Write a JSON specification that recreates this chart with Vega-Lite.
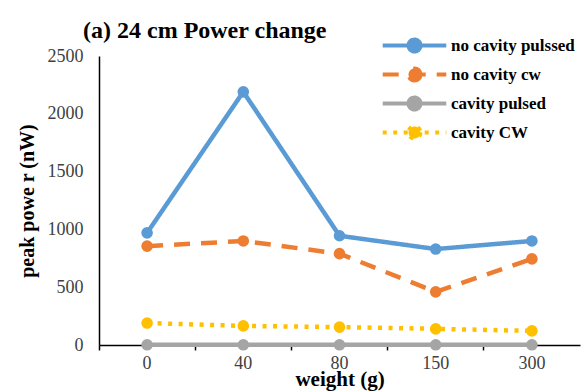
{
  "$schema": "https://vega.github.io/schema/vega-lite/v6.json",
  "width": 481,
  "height": 289,
  "autosize": {"type": "none"},
  "padding": {"left": 99, "top": 56, "right": 8, "bottom": 47},
  "background": "white",
  "title": {
    "text": "(a) 24 cm Power change",
    "anchor": "start",
    "frame": "group",
    "dx": -16,
    "offset": -6,
    "font": "'Liberation Serif', 'Times New Roman', 'DejaVu Serif', serif",
    "fontSize": 24,
    "fontWeight": "bold",
    "color": "#000000"
  },
  "config": {
    "view": {"stroke": null},
    "font": "'Liberation Serif', 'Times New Roman', 'DejaVu Serif', serif"
  },
  "data": {
    "values": [
      {"weight": 0, "series": "no cavity pulssed", "power": 970},
      {"weight": 40, "series": "no cavity pulssed", "power": 2190},
      {"weight": 80, "series": "no cavity pulssed", "power": 945},
      {"weight": 150, "series": "no cavity pulssed", "power": 830},
      {"weight": 300, "series": "no cavity pulssed", "power": 900},
      {"weight": 0, "series": "no cavity cw", "power": 855},
      {"weight": 40, "series": "no cavity cw", "power": 900},
      {"weight": 80, "series": "no cavity cw", "power": 790},
      {"weight": 150, "series": "no cavity cw", "power": 460},
      {"weight": 300, "series": "no cavity cw", "power": 745},
      {"weight": 0, "series": "cavity pulsed", "power": 2},
      {"weight": 40, "series": "cavity pulsed", "power": 2},
      {"weight": 80, "series": "cavity pulsed", "power": 2},
      {"weight": 150, "series": "cavity pulsed", "power": 2},
      {"weight": 300, "series": "cavity pulsed", "power": 2},
      {"weight": 0, "series": "cavity CW", "power": 190},
      {"weight": 40, "series": "cavity CW", "power": 165},
      {"weight": 80, "series": "cavity CW", "power": 155},
      {"weight": 150, "series": "cavity CW", "power": 140},
      {"weight": 300, "series": "cavity CW", "power": 122}
    ]
  },
  "mark": {
    "type": "line",
    "strokeWidth": 4.5,
    "point": {"filled": true, "size": 135, "opacity": 1}
  },
  "encoding": {
    "x": {
      "field": "weight",
      "type": "ordinal",
      "scale": {"type": "band", "paddingInner": 0, "paddingOuter": 0},
      "axis": {
        "title": "weight (g)",
        "titleFont": "'Liberation Serif', 'Times New Roman', 'DejaVu Serif', serif",
        "titleFontSize": 21,
        "titleFontWeight": "bold",
        "titleColor": "#000000",
        "titleY": 40,
        "titleBaseline": "alphabetic",
        "labelFont": "'Liberation Serif', 'Times New Roman', 'DejaVu Serif', serif",
        "labelFontSize": 18,
        "labelColor": "#404040",
        "labelAngle": 0,
        "labelPadding": 4,
        "bandPosition": 0,
        "domainColor": "#000000",
        "domainWidth": 1.5,
        "tickColor": "#000000",
        "tickSize": 5,
        "tickWidth": 1.5,
        "grid": false
      }
    },
    "y": {
      "field": "power",
      "type": "quantitative",
      "scale": {"domain": [0, 2500], "nice": false},
      "axis": {
        "title": "peak powe r (nW)",
        "values": [0, 500, 1000, 1500, 2000, 2500],
        "format": "d",
        "titleFont": "'Liberation Serif', 'Times New Roman', 'DejaVu Serif', serif",
        "titleFontSize": 20,
        "titleFontWeight": "bold",
        "titleColor": "#000000",
        "titlePadding": 10,
        "labelFont": "'Liberation Serif', 'Times New Roman', 'DejaVu Serif', serif",
        "labelFontSize": 18,
        "labelColor": "#404040",
        "labelPadding": 16,
        "ticks": false,
        "domainColor": "#000000",
        "domainWidth": 1.5,
        "grid": false
      }
    },
    "color": {
      "field": "series",
      "type": "nominal",
      "scale": {
        "domain": ["no cavity pulssed", "no cavity cw", "cavity pulsed", "cavity CW"],
        "range": ["#5B9BD5", "#ED7D31", "#A5A5A5", "#FFC000"]
      },
      "legend": {
        "title": null,
        "orient": "none",
        "legendX": 307,
        "legendY": -19,
        "symbolType": "M-5.3,0H5.3M1,0A1,1,0,1,1,-1,0A1,1,0,1,1,1,0",
        "symbolSize": 144,
        "symbolStrokeWidth": 4,
        "labelOffset": 28,
        "labelFont": "'Liberation Serif', 'Times New Roman', 'DejaVu Serif', serif",
        "labelFontSize": 17,
        "labelFontWeight": "bold",
        "labelColor": "#000000",
        "rowPadding": 0,
        "labelLimit": 300,
        "encode": {
          "symbols": {"update": {"fill": {"scale": "color", "field": "value"}}}
        }
      }
    },
    "strokeDash": {
      "field": "series",
      "type": "nominal",
      "scale": {
        "domain": ["no cavity pulssed", "no cavity cw", "cavity pulsed", "cavity CW"],
        "range": [[1, 0], [16, 11], [1, 0], [4, 6.5]]
      },
      "legend": null
    }
  }
}
